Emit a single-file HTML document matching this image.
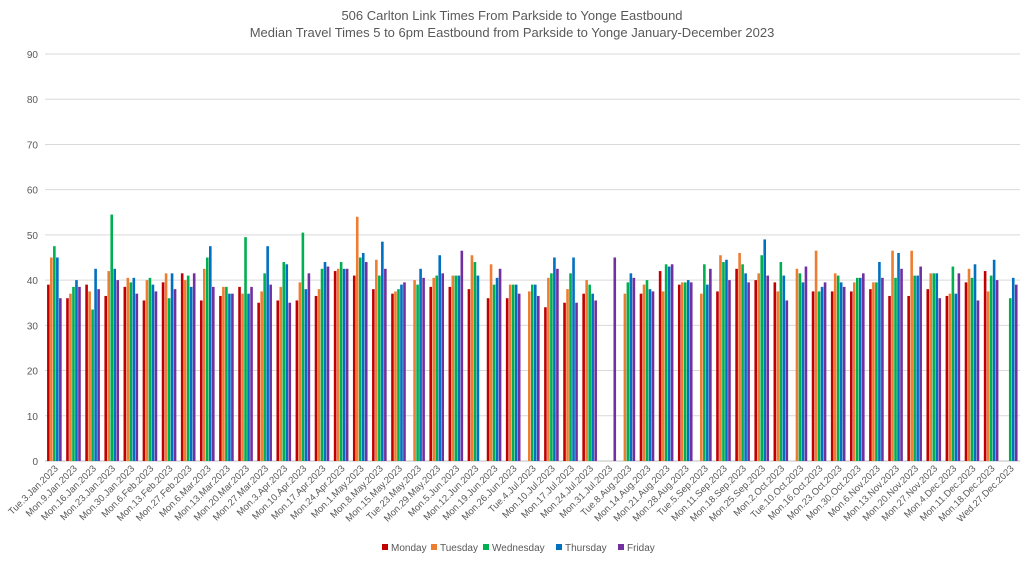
<!DOCTYPE html>
<html><head><meta charset="utf-8"><style>
body{margin:0;background:#fff;font-family:"Liberation Sans",sans-serif}
svg text{font-family:"Liberation Sans",sans-serif;fill:#595959}
</style></head><body>
<svg id="chart" width="1024" height="558" xmlns="http://www.w3.org/2000/svg">
<text x="512" y="20" text-anchor="middle" font-size="13">506 Carlton Link Times From Parkside to Yonge Eastbound</text>
<text x="512" y="37" text-anchor="middle" font-size="13">Median Travel Times 5 to 6pm Eastbound from Parkside to Yonge January-December 2023</text>
<g id="grid"></g><g id="bars"></g><g id="xl"></g><g id="legend"></g>
</svg>
<script>
const categories=["Tue.3.Jan.2023","Mon.9.Jan.2023","Mon.16.Jan.2023","Mon.23.Jan.2023","Mon.30.Jan.2023","Mon.6.Feb.2023","Mon.13.Feb.2023","Mon.27.Feb.2023","Mon.6.Mar.2023","Mon.13.Mar.2023","Mon.20.Mar.2023","Mon.27.Mar.2023","Mon.3.Apr.2023","Mon.10.Apr.2023","Mon.17.Apr.2023","Mon.24.Apr.2023","Mon.1.May.2023","Mon.8.May.2023","Mon.15.May.2023","Tue.23.May.2023","Mon.29.May.2023","Mon.5.Jun.2023","Mon.12.Jun.2023","Mon.19.Jun.2023","Mon.26.Jun.2023","Tue.4.Jul.2023","Mon.10.Jul.2023","Mon.17.Jul.2023","Mon.24.Jul.2023","Mon.31.Jul.2023","Tue.8.Aug.2023","Mon.14.Aug.2023","Mon.21.Aug.2023","Mon.28.Aug.2023","Tue.5.Sep.2023","Mon.11.Sep.2023","Mon.18.Sep.2023","Mon.25.Sep.2023","Mon.2.Oct.2023","Tue.10.Oct.2023","Mon.16.Oct.2023","Mon.23.Oct.2023","Mon.30.Oct.2023","Mon.6.Nov.2023","Mon.13.Nov.2023","Mon.20.Nov.2023","Mon.27.Nov.2023","Mon.4.Dec.2023","Mon.11.Dec.2023","Mon.18.Dec.2023","Wed.27.Dec.2023"];
const monday=[39,36,39,36.5,38.5,35.5,39.5,41.5,35.5,36.5,38.5,35,35.5,35.5,36.5,42,41,38,37,0,38.5,38.5,38,36,36,0,34,35,37,0,0,37,42,39,0,37.5,42.5,40,39.5,0,37.5,37.5,37.5,38,36.5,36.5,38,36.5,39.5,42,0];
const tuesday=[45,37,37.5,42,40.5,40,41.5,40,42.5,38.5,37,37.5,38.5,39.5,38,42.5,54,44.5,37.5,40,40.5,41,45.5,43.5,39,37.5,40.5,38,40,0,37,39,37.5,39.5,37,45.5,46,41.5,37.5,42.5,46.5,41.5,39.5,39.5,46.5,46.5,41.5,37,42.5,37.5,0];
const wednesday=[47.5,38.5,33.5,54.5,39.5,40.5,36,41,45,38.5,49.5,41.5,44,50.5,42.5,44,45,41,38,39,41,41,44,39,39,39,41.5,41.5,39,0,39.5,40,43.5,39.5,43.5,44,43.5,45.5,44,41.5,37.5,41,40.5,39.5,40.5,41,41.5,43,40.5,41,36];
const thursday=[45,40,42.5,42.5,40.5,39,41.5,38.5,47.5,37,37,47.5,43.5,38,44,42.5,46,48.5,39,42.5,45.5,41,41,40.5,39,39,45,45,37,0,41.5,38,43,40,39,44.5,41.5,49,41,39.5,38.5,39.5,40.5,44,46,41,41.5,37,43.5,44.5,40.5];
const friday=[36,38.5,38,40,37,37.5,38,41.5,38.5,37,38.5,39,35,41.5,43,42.5,44,42.5,39.5,40.5,41.5,46.5,0,42.5,37,36.5,42.5,35,35.5,45,40.5,37.5,43.5,39.5,42.5,40,39.5,41,35.5,43,39.5,38.5,41.5,40.5,42.5,43,36,41.5,35.5,40,39];
const seriesNames=["Monday","Tuesday","Wednesday","Thursday","Friday"];
const yTicks=[0,10,20,30,40,50,60,70,80,90];
const colors=["#c00000","#ed7d31","#00b050","#0070c0","#7030a0"];
const NS="http://www.w3.org/2000/svg";
const x0=45,x1=1020,yb=461,yt=54,ymax=90;
const slot=(x1-x0)/categories.length;
const y=v=>yb-(v/ymax)*(yb-yt);
const xc=i=>x0+slot*(i+0.5);
function mk(t,a,p){const e=document.createElementNS(NS,t);for(const k in a)e.setAttribute(k,a[k]);p.appendChild(e);return e;}
const grid=document.getElementById('grid');
yTicks.forEach(t=>{
 const l=mk('line',{x1:x0,x2:x1,y1:y(t),y2:y(t),stroke:t===0?'#bfbfbf':'#d9d9d9','stroke-width':1},grid);
 
 
 const tx=mk('text',{x:38,y:y(t)+4,'text-anchor':'end','font-size':10},grid);tx.textContent=t;
 
 
});
const series=[monday,tuesday,wednesday,thursday,friday];
const bars=document.getElementById('bars');const bw=3;
series.forEach((s,si)=>{s.forEach((v,i)=>{if(!v)return;
 const r=mk('rect',{x:xc(i)-7.5+si*bw,y:y(v),width:bw-0.4,height:yb-y(v),fill:colors[si]},bars);
 
 
});});
const xl=document.getElementById('xl');
categories.forEach((c,i)=>{
 const t=mk('text',{x:0,y:0,'text-anchor':'end','font-size':9.5,transform:`translate(${xc(i)+4},${469}) rotate(-45)`},xl);t.textContent=c;
 
 
});
const lg=document.getElementById('legend');
const lx=[382,431,483,556,618];
seriesNames.forEach((n,i)=>{
 const g=mk('g',{},lg);
 
 
 mk('rect',{x:lx[i],y:544,width:6,height:6,fill:colors[i]},g);
 const t=mk('text',{x:lx[i]+9,y:551,'font-size':10},g);t.textContent=n;
});
</script>
</body></html>
